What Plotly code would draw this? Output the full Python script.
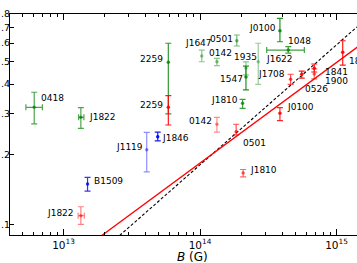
import numpy as np
import plotly.graph_objects as go

# ---------------- data ----------------
green_names = ["0418", "J1822", "2259", "J1647", "0501", "0142", "J0100",
               "1048", "1935", "1547", "J1622", "J1810"]
green_B = [6.1e12, 1.34e13, 5.86e13, 1.03e14, 1.86e14, 1.33e14, 3.85e14,
           4.43e14, 2.17e14, 2.17e14, 2.67e14, 2.05e14]
green_B_lo = [5.3e12, 1.29e13, None, None, None, None, None,
              3.08e14, None, None, None, None]
green_B_hi = [7.0e12, 1.41e13, None, None, None, None, None,
              5.81e14, None, None, None, None]
green_val = [0.318, 0.288, 0.496, 0.528, 0.614, 0.499, 0.678,
             0.560, 0.469, 0.429, 0.499, 0.331]
green_lo = [0.270, 0.258, 0.298, 0.499, 0.583, 0.480, 0.608,
            0.543, 0.438, 0.378, 0.399, 0.315]
green_hi = [0.369, 0.317, 0.599, 0.560, 0.650, 0.516, 0.766,
            0.579, 0.498, 0.478, 0.599, 0.344]

red_names = ["2259", "0142", "0501", "J1810", "J0100", "J1708", "0526",
             "1841", "1900", "1806", "J1822"]
red_B = [5.86e13, 1.33e14, 1.84e14, 2.07e14, 3.85e14, 4.61e14, 5.56e14,
         6.87e14, 6.87e14, 1.11e15, 1.34e13]
red_B_lo = [None, None, None, None, None, None, None, None, None, None, 1.28e13]
red_B_hi = [None, None, None, None, None, None, None, None, None, None, 1.42e13]
red_val = [0.318, 0.269, 0.250, 0.166, 0.300, 0.420, 0.441,
           0.468, 0.442, 0.548, 0.109]
red_lo = [0.267, 0.249, 0.242, 0.160, 0.279, 0.399, 0.424,
          0.451, 0.421, 0.483, 0.100]
red_hi = [0.357, 0.288, 0.269, 0.172, 0.317, 0.441, 0.455,
          0.488, 0.465, 0.614, 0.119]

blue_names = ["B1509", "J1119", "J1846"]
blue_B = [1.50e13, 4.07e13, 4.9e13]
blue_val = [0.149, 0.209, 0.238]
blue_lo = [0.139, 0.168, 0.228]
blue_hi = [0.159, 0.248, 0.249]

# fitted relations (end points)
red_fit_B = [1.6e13, 1.6e15]
red_fit_val = [0.083, 0.607]
dash_fit_B = [2.0e13, 1.6e15]
dash_fit_val = [0.0786, 0.751]

x_tick_vals = [1e13, 1e14, 1e15]
x_tick_text = ["10<sup>13</sup>", "10<sup>14</sup>", "10<sup>15</sup>"]
y_tick_vals = [0.1, 0.2, 0.3, 0.4, 0.5, 0.6, 0.7, 0.8]
y_tick_text = [".1", ".2", ".3", ".4", ".5", ".6", ".7", ".8"]

# ---------------- styles ----------------
green_alpha = [0.7, 0.7, 0.8, 0.45, 0.55, 0.45, 0.85, 0.75, 0.45, 0.85, 0.4, 0.75]
red_alpha = [0.9, 0.45, 0.7, 0.6, 0.85, 0.7, 0.9, 0.9, 0.6, 0.9, 0.5]
blue_alpha = [0.8, 0.45, 0.9]

# label placement: (xanchor, xshift, yshift)
green_lab = [("left", 5, 9), ("left", 6, 0), ("right", -3, 3), ("center", -3, 13),
             ("right", -2, 2), ("center", 4, 9), ("right", -2, 3), ("left", -2, 9),
             ("center", 0, 11), ("right", -1, -2), ("left", 6, 3), ("right", -3, 3)]
red_lab = [("right", -3, 2), ("right", -3, 3), ("left", 5, -11), ("left", 5, 3),
           ("left", 5, 6), ("right", -4, 5), ("left", 1, -15), ("left", 9, -4),
           ("left", 9, -7), ("left", 4, -9), ("right", -5, 3)]
blue_lab = [("left", 4, 3), ("right", -2, 3), ("left", 2, -1)]

FONT = "DejaVu Sans"
fig = go.Figure()

fig.add_trace(go.Scatter(x=dash_fit_B, y=dash_fit_val, mode="lines",
                         line=dict(color="black", width=1.1, dash="3px,2px"),
                         showlegend=False, hoverinfo="skip"))
fig.add_trace(go.Scatter(x=red_fit_B, y=red_fit_val, mode="lines",
                         line=dict(color="red", width=1.3),
                         showlegend=False, hoverinfo="skip"))

annotations = []


def add_group(names, B, val, lo, hi, alphas, labs, rgb, B_lo=None, B_hi=None):
    for i in range(len(names)):
        col = f"rgba({rgb},{alphas[i]})"
        ey = dict(type="data", symmetric=False,
                  array=[hi[i] - val[i]], arrayminus=[val[i] - lo[i]],
                  color=col, thickness=1.2, width=3)
        kw = {}
        if B_lo is not None and B_lo[i] is not None:
            kw["error_x"] = dict(type="data", symmetric=False,
                                 array=[B_hi[i] - B[i]], arrayminus=[B[i] - B_lo[i]],
                                 color=col, thickness=1.2, width=3)
        fig.add_trace(go.Scatter(x=[B[i]], y=[val[i]], mode="markers",
                                 marker=dict(color=col, size=3.5),
                                 error_y=ey, showlegend=False, **kw))
        xa, xs, ys = labs[i]
        annotations.append(dict(x=np.log10(B[i]), y=np.log10(val[i]),
                                xref="x", yref="y", text=names[i], showarrow=False,
                                xanchor=xa, yanchor="middle", xshift=xs, yshift=ys,
                                font=dict(family=FONT, size=9, color="black")))


add_group(green_names, green_B, green_val, green_lo, green_hi, green_alpha, green_lab,
          "0,128,0", green_B_lo, green_B_hi)
add_group(red_names, red_B, red_val, red_lo, red_hi, red_alpha, red_lab,
          "255,0,0", red_B_lo, red_B_hi)
add_group(blue_names, blue_B, blue_val, blue_lo, blue_hi, blue_alpha, blue_lab,
          "0,0,255")

annotations.append(dict(x=0.527, y=-0.098, xref="paper", yref="paper",
                        text="<i>B</i> (G)", showarrow=False,
                        xanchor="center", yanchor="middle",
                        font=dict(family=FONT, size=12, color="black")))

minor_x = [m * 10.0 ** e for e in (12, 13, 14, 15) for m in range(2, 10)]

fig.update_layout(
    width=357, height=263,
    margin=dict(l=10, r=0, t=14, b=28),
    paper_bgcolor="white", plot_bgcolor="white",
    font=dict(family=FONT, size=10, color="black"),
    annotations=annotations,
    xaxis=dict(type="log", range=[12.608, 15.150], showgrid=False, zeroline=False,
               showline=True, linecolor="black", linewidth=1, mirror="ticks",
               ticks="inside", ticklen=6, tickcolor="black",
               tickvals=x_tick_vals, ticktext=x_tick_text,
               tickfont=dict(family=FONT, size=10.5),
               minor=dict(ticks="inside", ticklen=3, tickcolor="black", tickvals=minor_x),
               automargin=False),
    yaxis=dict(type="log", range=[np.log10(0.0900), np.log10(0.8)], showgrid=False,
               zeroline=False, showline=True, linecolor="black", linewidth=1,
               mirror=False, ticks="inside", ticklen=4, tickcolor="black",
               tickvals=y_tick_vals, ticktext=y_tick_text, ticklabelstandoff=-3,
               tickfont=dict(family=FONT, size=9.5), automargin=False),
)

fig.write_html("out.html", config={"displayModeBar": False},
               post_script="document.body.style.margin='0px';")
